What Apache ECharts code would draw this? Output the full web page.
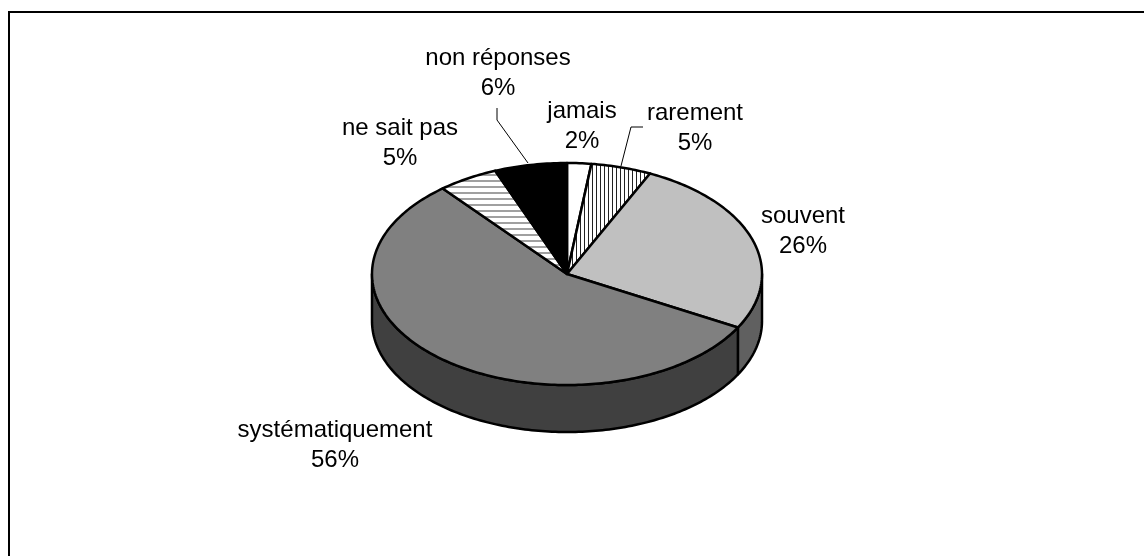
<!DOCTYPE html>
<html>
<head>
<meta charset="utf-8">
<style>html,body{margin:0;padding:0;background:#fff}#c{width:1144px;height:556px}</style>
<script src="https://cdn.jsdelivr.net/npm/echarts@6/dist/echarts.min.js"></script>
</head>
<body>
<div id="c"></div>
<script>
const categories = ['jamais', 'rarement', 'souvent', 'systématiquement', 'ne sait pas', 'non réponses'];
const values = [2, 5, 26, 56, 5, 6];

// Styling and layout, kept apart from the data
const RX = 195, RY = 111, DEPTH_PX = 47;
const depth = DEPTH_PX / RY;
function hatch(w, h, color, draw) {
  const cv = document.createElement('canvas');
  cv.width = w; cv.height = h;
  const g = cv.getContext('2d');
  g.fillStyle = '#fff'; g.fillRect(0, 0, w, h);
  g.fillStyle = color; draw(g);
  return { image: cv, repeat: 'repeat' };
}
const topFills = [
  '#ffffff',
  hatch(4, 4, '#222', g => g.fillRect(0, 0, 1, 4)),
  '#c0c0c0',
  '#808080',
  hatch(6, 6, '#a0a0a0', g => g.fillRect(0, 0, 6, 2)),
  '#000000'
];
const sideFills = ['#808080', '#808080', '#606060', '#404040', '#808080', '#000000'];
const labelCenters = [[582, 126], [695, 128], [803, 231], [335, 445], [400, 143], [498, 73]];
const leaderPaths = [null, [[643, 127], [631, 127], [621, 166]], null, null, null, [[497, 108], [497, 120], [528, 163]]];

const chart = echarts.init(document.getElementById('c'), null, { renderer: 'canvas' });
const total = values.reduce((a, b) => a + b, 0);
let acc = 0;
const rows = values.map((v, i) => { const r = [i, v, acc]; acc += v; return r; });

const toAngle = u => u / total * 2 * Math.PI;
const arcPoints = (a0, a1, dy, coord) => {
  const pts = [], n = Math.max(2, Math.ceil(Math.abs(a1 - a0) / (Math.PI / 180)));
  for (let k = 0; k <= n; k++) {
    const a = a0 + (a1 - a0) * k / n;
    pts.push(coord([Math.sin(a), Math.cos(a) + dy]));
  }
  return pts;
};
const outline = { stroke: '#000', lineWidth: 2.5, lineJoin: 'round' };

function renderSide(params, api) {
  const i = api.value(0);
  const a0 = Math.max(toAngle(api.value(2)), Math.PI / 2);
  const a1 = Math.min(toAngle(api.value(2) + api.value(1)), Math.PI * 1.5);
  if (a1 <= a0) return { type: 'group', children: [] };
  const front = arcPoints(a0, a1, 0, api.coord);
  const back = arcPoints(a1, a0, -depth, api.coord);
  return { type: 'polygon', shape: { points: front.concat(back) },
    style: Object.assign({ fill: sideFills[i] }, outline) };
}
function renderTop(params, api) {
  const i = api.value(0);
  const a0 = toAngle(api.value(2));
  const a1 = toAngle(api.value(2) + api.value(1));
  const pts = [api.coord([0, 0])].concat(arcPoints(a0, a1, 0, api.coord));
  return { type: 'polygon', shape: { points: pts },
    style: Object.assign({ fill: topFills[i] }, outline) };
}
function renderLabel(params, api) {
  const i = api.value(0);
  const c = labelCenters[i];
  const kids = [{ type: 'text', style: {
    x: c[0], y: c[1], text: categories[i] + '\n' + api.value(1) + '%',
    fill: '#000', font: '24px "Liberation Sans", Arial, sans-serif',
    lineHeight: 30, align: 'center', verticalAlign: 'middle'
  } }];
  if (leaderPaths[i]) kids.push({ type: 'polyline', shape: { points: leaderPaths[i] },
    style: { fill: 'none', stroke: '#000', lineWidth: 1 } });
  return { type: 'group', children: kids };
}

chart.setOption({
  animation: false,
  backgroundColor: '#fff',
  grid: { left: 567 - RX, width: RX * 2, top: 274 - RY, height: RY * 2 + DEPTH_PX },
  xAxis: { type: 'value', min: -1, max: 1, show: false },
  yAxis: { type: 'value', min: -1 - depth, max: 1, show: false },
  graphic: [
    { type: 'polyline', shape: { points: [[9, 556], [9, 12], [1144, 12]] },
      style: { fill: 'none', stroke: '#000', lineWidth: 2 } }
  ],
  series: [
    { type: 'custom', z: 1, clip: false, renderItem: renderSide, data: rows },
    { type: 'custom', z: 2, clip: false, renderItem: renderTop, data: rows },
    { type: 'custom', z: 3, clip: false, renderItem: renderLabel, data: rows }
  ]
});
</script>
</body>
</html>
